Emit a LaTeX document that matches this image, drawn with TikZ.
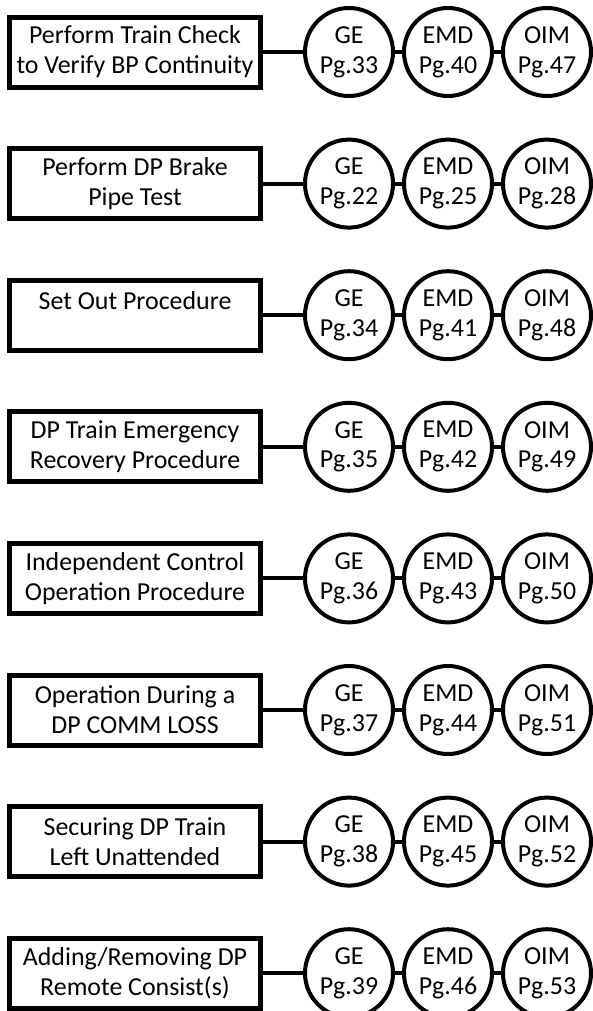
\documentclass[tikz,border=0pt]{standalone}
\usepackage{fontspec}
\setmainfont{Carlito}
\usetikzlibrary{positioning}

\tikzset{
  procbox/.style={draw,line width=5bp,minimum width=251bp,minimum height=70bp,inner sep=2bp,align=center},
  pgcircle/.style={circle,draw,line width=4bp,minimum size=88bp,inner sep=0pt,align=center},
  link/.style={line width=4bp}
}

\begin{document}
\begin{tikzpicture}[x=1bp,y=-1bp,font=\fontsize{26}{30}\selectfont]
    \useasboundingbox (0,0) rectangle (593,1011);
    \foreach \i/\lab/\pgge/\pgemd/\pgoim in {%
      0/{Perform Train Check\\to Verify BP Continuity}/33/40/47,
      1/{Perform DP Brake\\Pipe Test}/22/25/28,
      2/{Set Out Procedure\\\mbox{}}/34/41/48,
      3/{DP Train Emergency\\Recovery Procedure}/35/42/49,
      4/{Independent Control\\Operation Procedure}/36/43/50,
      5/{Operation During a\\DP COMM LOSS}/37/44/51,
      6/{Securing DP Train\\Left Unattended}/38/45/52,
      7/{Adding/Removing DP\\Remote Consist(s)}/39/46/53}{
      \node[procbox] (proc\i) at (135,{52+131.6*\i}) {\lab};
      \node[pgcircle] (ge\i) at (349,{52+131.6*\i}) {GE\\Pg.\pgge};
      \node[pgcircle] (emd\i) at (448,{52+131.6*\i}) {EMD\\Pg.\pgemd};
      \node[pgcircle] (oim\i) at (547,{52+131.6*\i}) {OIM\\Pg.\pgoim};
      \draw[link] (proc\i) -- (ge\i);
      \draw[link] (ge\i) -- (emd\i);
      \draw[link] (emd\i) -- (oim\i);
    }
  \end{tikzpicture}
\end{document}
